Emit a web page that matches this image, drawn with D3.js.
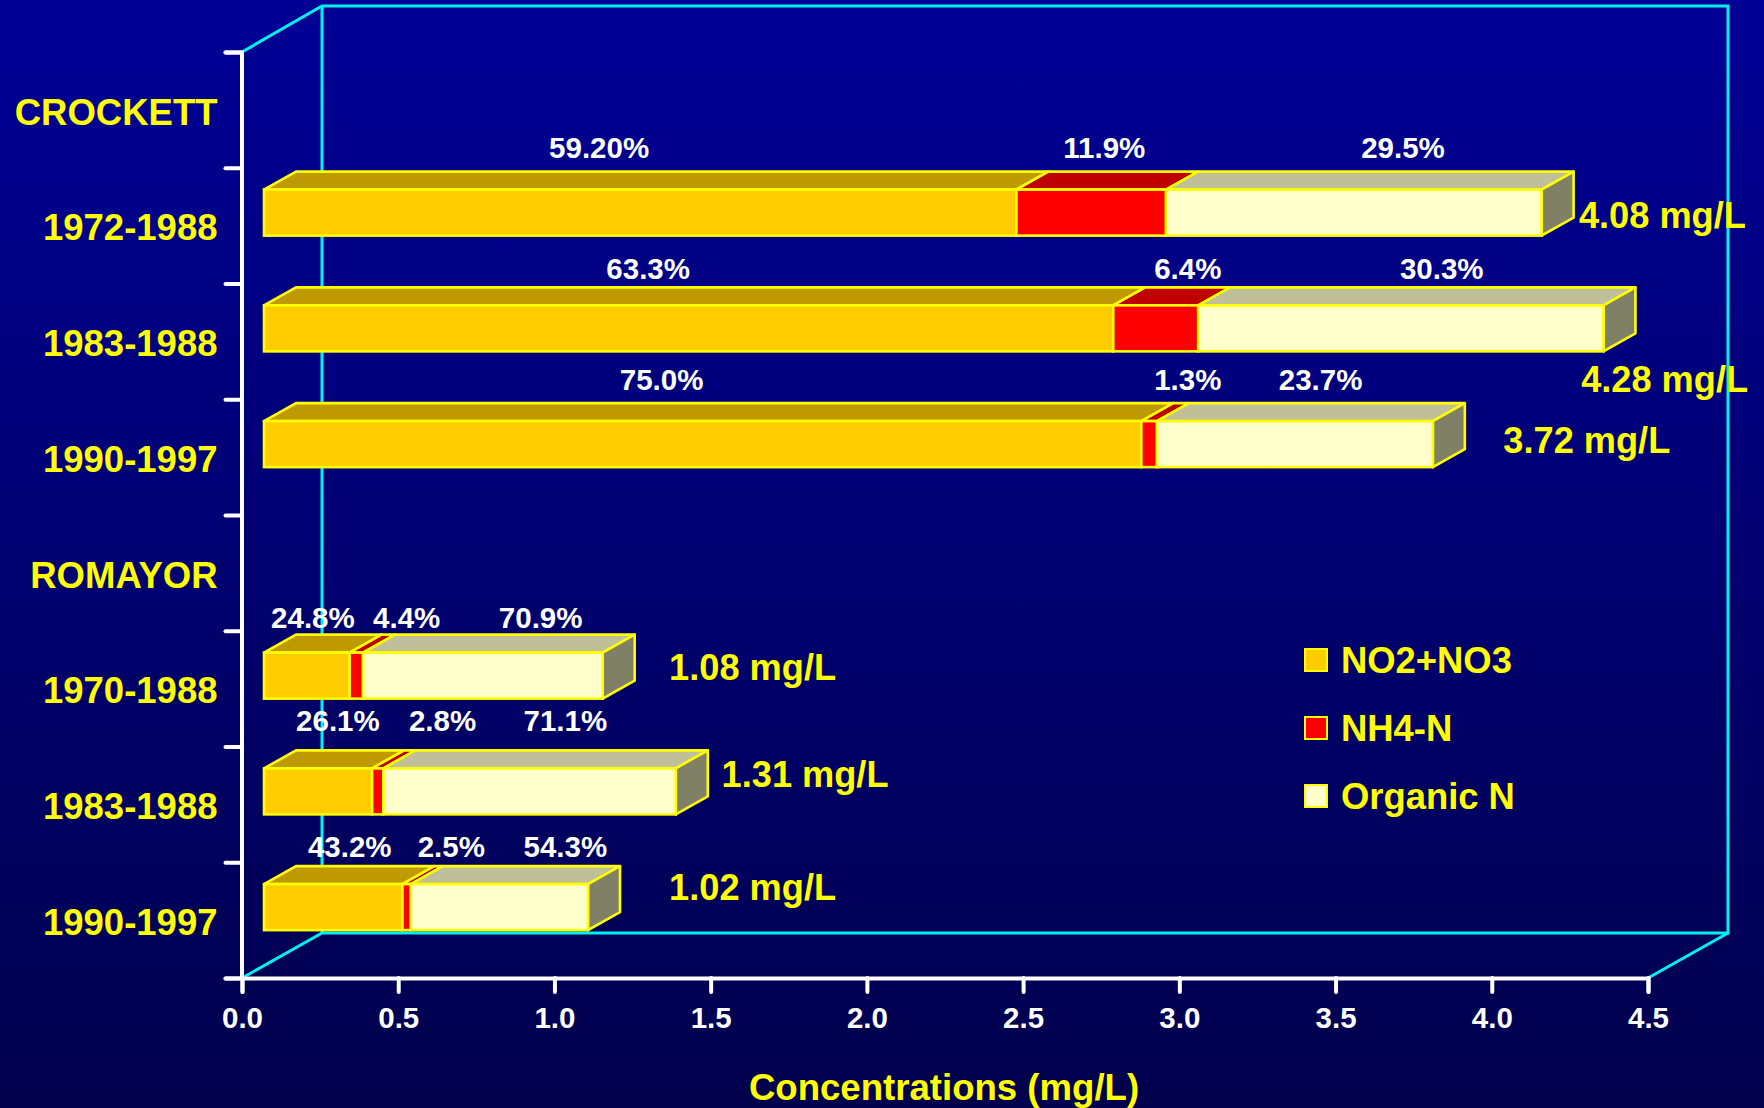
<!DOCTYPE html>
<html><head><meta charset="utf-8">
<script src="https://cdn.jsdelivr.net/npm/d3@7"></script>
<style>html,body{margin:0;padding:0;background:#000060}svg{display:block}
text{font-family:"Liberation Sans",Arial,sans-serif;font-weight:700}</style></head>
<body><svg id="c" width="1764" height="1108"></svg>
<script>
const categories=["CROCKETT","1972-1988","1983-1988","1990-1997","ROMAYOR","1970-1988","1983-1988 ","1990-1997 "];
const barCategories=["1972-1988","1983-1988","1990-1997","1970-1988","1983-1988 ","1990-1997 "];
const seriesNames=["NO2+NO3","NH4-N","Organic N"];
const no2no3=[2.408,2.718,2.808,0.274,0.346,0.443];
const nh4n=[0.479,0.272,0.050,0.043,0.036,0.027];
const organicN=[1.202,1.297,0.883,0.767,0.936,0.567];
const pctNo=["59.20%","63.3%","75.0%","24.8%","26.1%","43.2%"];
const pctNh=["11.9%","6.4%","1.3%","4.4%","2.8%","2.5%"];
const pctOrg=["29.5%","30.3%","23.7%","70.9%","71.1%","54.3%"];
const totals=["4.08 mg/L","4.28 mg/L","3.72 mg/L","1.08 mg/L","1.31 mg/L","1.02 mg/L"];
const xTicks=[0,0.5,1,1.5,2,2.5,3,3.5,4,4.5];
// label anchors, in axis units
const pctX=[[1.143,2.76,3.716],[1.30,3.027,3.84],[1.343,3.027,3.452],[0.227,0.527,0.956],[0.307,0.642,1.035],[0.345,0.67,1.035]];
const pctDy=[-65,-59.5,-65,-58,-71,-61];
const totalX=[4.279,4.286,4.037,1.367,1.535,1.367];
const totalDy=[2,51,-4,-9,-17.5,-20];

const faces=[{f:"#ffcc00",t:"#bf9900"},{f:"#ff0000",t:"#bf0000"},{f:"#ffffcc",t:"#bfbf99"}];
const sideFill="#808066",edge="#ffff00",wall="#00f0f0";
const W=1764,H=1108,x0=242,x1=1648,y0=52,y1=978,depthX=80,depthY=45,barDX=32,barDY=18,barStart=22,barH=46;

const svg=d3.select("#c");
const g=svg.append("defs").append("linearGradient").attr("id","bg").attr("x1",0).attr("x2",0).attr("y1",0).attr("y2",1);
g.append("stop").attr("offset",0).attr("stop-color","#000096");
g.append("stop").attr("offset",1).attr("stop-color","#00004c");
svg.append("rect").attr("width",W).attr("height",H).attr("fill","url(#bg)");

const x=d3.scaleLinear().domain([0,4.5]).range([x0,x1]);
const yEdge=d3.scaleLinear().domain([0,categories.length]).range([y0,y1]);
const yBand=d3.scaleBand().domain(categories).range([y0,y1]);
const line=d3.line();

// back wall
const wallPaths=[
 [[x0,y0],[x0+depthX,y0-depthY-1],[x1+depthX,y0-depthY-1],[x1+depthX,y1-depthY],[x0+depthX,y1-depthY],[x0,y1]],
 [[x0+depthX,y0-depthY-1],[x0+depthX,y1-depthY]],
 [[x1+depthX,y1-depthY],[x1,y1]]
];
svg.append("g").selectAll("path").data(wallPaths).join("path").attr("fill","none").attr("stroke",wall).attr("stroke-width",3).attr("d",d=>line(d));

// bars
const rows=barCategories.map((c,i)=>{
  let acc=0;
  const vals=[no2no3[i],nh4n[i],organicN[i]].map(v=>{const s={a:acc,b:acc+v};acc+=v;return s;});
  return {c,i,vals,total:acc};
});
const bx=v=>x(v)+barStart;
const rowG=svg.selectAll("g.row").data(rows).join("g").attr("class","row")
 .attr("transform",d=>`translate(0,${yBand(d.c)+yBand.bandwidth()/2-13-barH/2})`);
rowG.each(function(d){
  const r=d3.select(this);
  d.vals.forEach((s,k)=>{
    r.append("path").attr("fill",faces[k].t).attr("stroke",edge).attr("stroke-width",2.6).attr("stroke-linejoin","round")
     .attr("d",line([[bx(s.a),0],[bx(s.a)+barDX,-barDY],[bx(s.b)+barDX,-barDY],[bx(s.b),0]])+"Z");
  });
  r.append("path").attr("fill",sideFill).attr("stroke",edge).attr("stroke-width",2.6).attr("stroke-linejoin","round")
   .attr("d",line([[bx(d.total),0],[bx(d.total)+barDX,-barDY],[bx(d.total)+barDX,barH-barDY],[bx(d.total),barH]])+"Z");
  d.vals.forEach((s,k)=>{
    r.append("rect").attr("x",bx(s.a)).attr("y",0).attr("width",bx(s.b)-bx(s.a)).attr("height",barH)
     .attr("fill",faces[k].f).attr("stroke",edge).attr("stroke-width",2.6);
  });
});

// axes
const xAxis=svg.append("g").attr("transform",`translate(0,${y1})`)
 .call(d3.axisBottom(x).tickValues(xTicks).tickFormat(d3.format(".1f")).tickSize(14).tickPadding(15));
const yAxis=svg.append("g").attr("transform",`translate(${x0-0.5},0)`)
 .call(d3.axisLeft(yEdge).tickValues(d3.range(categories.length+1)).tickFormat("").tickSize(16));
[xAxis,yAxis].forEach(a=>{
  a.select(".domain").attr("stroke","#fff").attr("stroke-width",4).attr("stroke-linecap","round");
  a.selectAll(".tick line").attr("stroke","#fff").attr("stroke-width",4).attr("stroke-linecap","round");
});
xAxis.selectAll(".tick text").attr("fill","#fff").attr("font-size",29.5).attr("font-family",'"Liberation Sans"').attr("font-weight",700);

// category labels
svg.append("g").selectAll("text").data(categories).join("text")
 .attr("x",217.5).attr("y",d=>yBand(d)+yBand.bandwidth()/2+1.5).attr("dy",".36em")
 .attr("text-anchor","end").attr("fill","#ffff00").attr("font-size",36.5).text(d=>d.trim());

// percentage labels
rows.forEach((d,i)=>{
  [pctNo[i],pctNh[i],pctOrg[i]].forEach((t,k)=>{
    svg.append("text").attr("x",x(pctX[i][k])).attr("y",yBand(d.c)+yBand.bandwidth()/2+pctDy[i]-13)
     .attr("dy",".36em").attr("text-anchor","middle").attr("fill","#fff").attr("font-size",29.5).text(t);
  });
  svg.append("text").attr("x",x(totalX[i])).attr("y",yBand(d.c)+yBand.bandwidth()/2+totalDy[i]-13)
   .attr("dy",".36em").attr("fill","#ffff00").attr("font-size",36.2).text(totals[i]);
});

// legend
const legendY=d3.scalePoint().domain(seriesNames).range([660,796]);
const lg=svg.append("g").selectAll("g").data(seriesNames).join("g").attr("transform",d=>`translate(1305,${legendY(d)})`);
lg.append("rect").attr("x",0).attr("y",-11).attr("width",22).attr("height",22)
 .attr("fill",(d,i)=>faces[i].f).attr("stroke",edge).attr("stroke-width",2);
lg.append("text").attr("x",36).attr("y",0).attr("dy",".36em").attr("fill","#ffff00").attr("font-size",36.4).text(d=>d);

// axis title
svg.append("text").attr("x",944).attr("y",1100).attr("text-anchor","middle").attr("fill","#ffff00").attr("font-size",36.6).text("Concentrations (mg/L)");
</script></body></html>
